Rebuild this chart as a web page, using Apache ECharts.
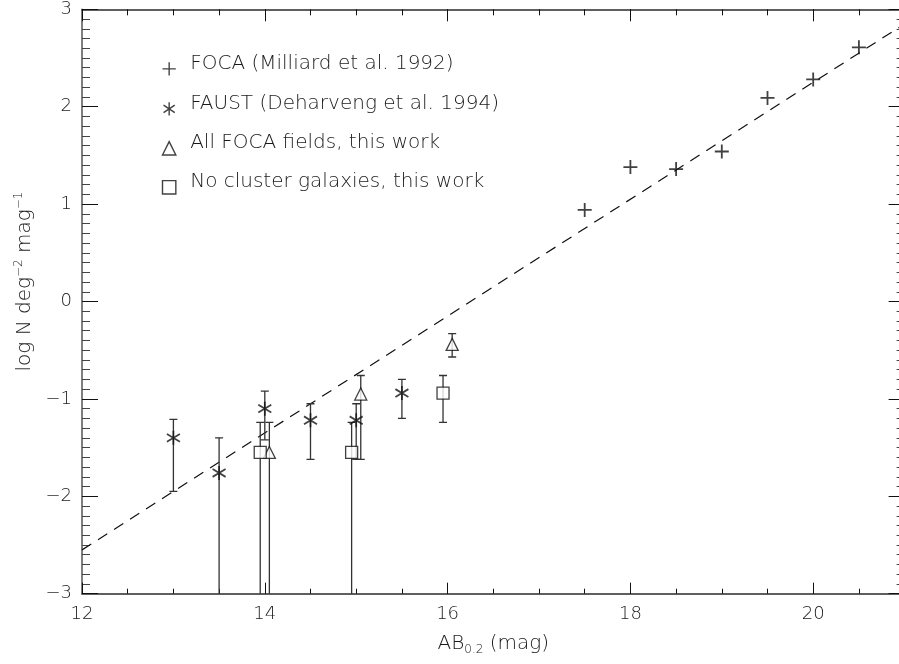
<!DOCTYPE html>
<html>
<head>
<meta charset="utf-8">
<script src="https://cdn.jsdelivr.net/npm/echarts@6/dist/echarts.min.js"></script>
<style>html,body{margin:0;padding:0;background:#fff}#c{width:899px;height:664px}</style>
</head>
<body>
<div id="c"></div>
<script>
// ---- data ----
const focaX = [17.5, 18, 18.5, 19, 19.5, 20, 20.5];
const focaY = [0.94, 1.38, 1.36, 1.54, 2.09, 2.28, 2.61];

const faustX = [13, 13.5, 14, 14.5, 15, 15.5];
const faustY = [-1.40, -1.76, -1.10, -1.22, -1.22, -0.94];
const faustLo = [-1.95, null, -1.42, -1.62, -1.62, -1.20];
const faustHi = [-1.21, -1.40, -0.92, -1.05, -1.05, -0.80];

const allX = [14.05, 15.05, 16.05];
const allY = [-1.55, -0.95, -0.44];
const allLo = [null, -1.62, -0.57];
const allHi = [-1.24, -0.76, -0.33];

const noClX = [13.95, 14.95, 15.95];
const noClY = [-1.55, -1.55, -0.94];
const noClLo = [null, null, -1.24];
const noClHi = [-1.24, -1.24, -0.76];

const fitX = [12, 21];
const fitY = [-2.55, 2.85];

const xMajorTicks = [12, 14, 16, 18, 20];
const yMajorTicks = [-3, -2, -1, 0, 1, 2, 3];

const names = ['FOCA (Milliard et al. 1992)', 'FAUST (Deharveng et al. 1994)', 'All FOCA fields, this work', 'No cluster galaxies, this work'];

// ---- build ----
const zip = (a, b) => a.map((v, i) => [v, b[i]]);
const zip3 = (a, b, c) => a.map((v, i) => [v, b[i], c[i]]);

const FONT = 'DejaVu Sans';
const FW = 200;
const INK = '#111';
const AXC = '#555';
const TXT = '#1a1a1a';

const errData = [].concat(
  zip3(faustX, faustLo, faustHi),
  zip3(allX, allLo, allHi),
  zip3(noClX, noClLo, noClHi)
);

const pPlus = 'M5,0L5,10M0,5L10,5';
const pAst = 'M5,0L5,10M0.8,2.2L9.2,7.8M0.8,7.8L9.2,2.2';
const pTri = 'M5,0L10,10L0,10Z';
const pSq = 'M0,0L10,0L10,10L0,10Z';
const sym = p => 'path://' + p;
// legend icons: same glyphs, sitting a little lower (on the text baseline)
const legIcon = p => 'path://M5,-8' + p;

const openStyle = {color: '#fff', borderColor: INK, borderWidth: 1.3};

function xAx(pos, major, show) {
  return {
    type: 'value', min: 12, max: 21, interval: major ? 2 : 0.5, position: pos,
    axisLine: {show: true, onZero: false, lineStyle: {color: AXC, width: 1.5}},
    axisTick: {show: true, inside: true, length: major ? (pos === 'top' ? 12 : 11) : (pos === 'top' ? 6 : 5),
      lineStyle: {color: INK, width: 1}},
    axisLabel: {show: show, margin: 12, color: TXT, fontFamily: FONT, fontWeight: FW, fontSize: 18,
      showMaxLabel: false,
      formatter: v => (xMajorTicks.indexOf(v) >= 0 ? String(v) : '')},
    splitLine: {show: false},
    name: show ? 'AB{sub|0.2} (mag)' : '',
    nameLocation: 'middle', nameGap: 38,
    nameTextStyle: {color: TXT, fontFamily: FONT, fontWeight: FW, fontSize: 20,
      rich: {sub: {fontSize: 12, fontFamily: FONT, fontWeight: FW, color: TXT, padding: [12, 0, 0, 0]}}}
  };
}
function yAx(pos, show) {
  return {
    type: 'value', min: -3, max: 3, interval: 1, position: pos,
    axisLine: {show: true, onZero: false, lineStyle: {color: AXC, width: 1.5}},
    axisTick: {show: true, inside: true, length: 16, lineStyle: {color: INK, width: 1}},
    minorTick: {show: true, splitNumber: 10, length: 8, lineStyle: {color: '#444', width: 1}},
    axisLabel: {show: show, margin: 10, color: TXT, fontFamily: FONT, fontWeight: FW, fontSize: 18,
      formatter: v => (yMajorTicks.indexOf(v) >= 0 ? String(v).replace('-', '\u2212') : '')},
    splitLine: {show: false},
    name: show ? 'log N deg{sup|\u22122} mag{sup|\u22121}' : '',
    nameLocation: 'middle', nameGap: 46, nameRotate: 90,
    nameTextStyle: {color: TXT, fontFamily: FONT, fontWeight: FW, fontSize: 20, padding: [0, 0, 0, 40],
      rich: {sup: {fontSize: 12, fontFamily: FONT, fontWeight: FW, color: TXT, padding: [0, 0, 11, 0]}}}
  };
}

const chart = echarts.init(document.getElementById('c'), null, {renderer: 'canvas'});
chart.setOption({
  animation: false,
  backgroundColor: '#fff',
  grid: {left: 82, top: 9.3, width: 822.6, height: 584.4, containLabel: false, outerBoundsMode: 'none'},
  xAxis: [xAx('bottom', true, true), xAx('bottom', false, false), xAx('top', true, false), xAx('top', false, false)],
  yAxis: [yAx('left', true), yAx('right', false)],
  legend: {
    orient: 'vertical', left: 155, top: 44,
    itemWidth: 32, itemHeight: 24, itemGap: 11,
    symbolKeepAspect: true,
    textStyle: {color: TXT, fontFamily: FONT, fontWeight: FW, fontSize: 20, lineHeight: 19, padding: [0, 0, 9, 0]},
    itemStyle: {borderWidth: 1.4},
    data: [
      {name: names[0], icon: legIcon(pPlus)},
      {name: names[1], icon: legIcon(pAst)},
      {name: names[2], icon: legIcon(pTri)},
      {name: names[3], icon: legIcon(pSq)}
    ]
  },
  series: [
    {
      type: 'line', name: 'fit', data: zip(fitX, fitY), symbol: 'none',
      lineStyle: {color: INK, width: 1.2, type: [11, 8]}, silent: true, z: 1
    },
    {
      type: 'custom', name: 'err', data: errData, clip: true, z: 2,
      renderItem: function (params, api) {
        const x = api.value(0);
        const lo = api.value(1);
        const hi = api.value(2);
        const pHi = api.coord([x, hi]);
        const cs = params.coordSys;
        const pLo = isNaN(lo) ? [pHi[0], cs.y + cs.height + 2] : api.coord([x, lo]);
        const w = 4;
        const st = {stroke: '#333', lineWidth: 1.3};
        const kids = [
          {type: 'line', shape: {x1: pHi[0], y1: pHi[1], x2: pLo[0], y2: pLo[1]}, style: st},
          {type: 'line', shape: {x1: pHi[0] - w, y1: pHi[1], x2: pHi[0] + w, y2: pHi[1]}, style: st}
        ];
        if (!isNaN(lo)) kids.push({type: 'line', shape: {x1: pLo[0] - w, y1: pLo[1], x2: pLo[0] + w, y2: pLo[1]}, style: st});
        return {type: 'group', children: kids};
      }
    },
    {type: 'scatter', name: names[0], data: zip(focaX, focaY), symbol: sym(pPlus), symbolSize: 14,
      itemStyle: {color: 'none', borderColor: INK, borderWidth: 1.8}, z: 3},
    {type: 'scatter', name: names[1], data: zip(faustX, faustY), symbol: sym(pAst), symbolSize: [13, 14],
      itemStyle: {color: 'none', borderColor: INK, borderWidth: 1.8}, z: 3},
    {type: 'scatter', name: names[2], data: zip(allX, allY), symbol: sym(pTri), symbolSize: [12, 12],
      itemStyle: openStyle, z: 3},
    {type: 'scatter', name: names[3], data: zip(noClX, noClY), symbol: sym(pSq), symbolSize: [12, 12],
      itemStyle: openStyle, z: 3}
  ]
});
</script>
</body>
</html>
